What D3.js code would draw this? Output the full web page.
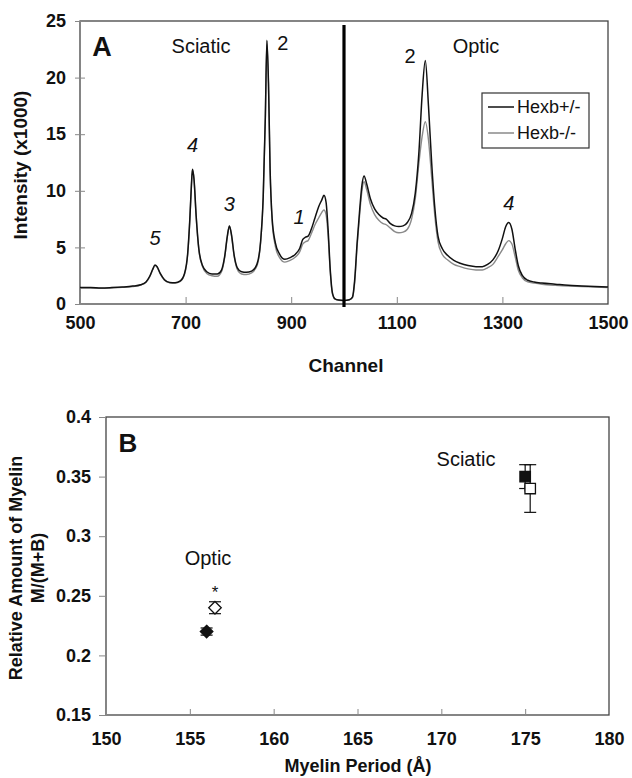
<!DOCTYPE html>
<html><head><meta charset="utf-8">
<script src="https://cdn.jsdelivr.net/npm/d3@7"></script>
<style>body{margin:0;background:#fff}text{font-family:"Liberation Sans",Arial,sans-serif;fill:#111}</style>
</head><body><svg id="c" width="632" height="778"></svg>
<script>
// ---- Panel A data ----
const channels = [500,520,540,560,580,600,615,625,632,638,642,646,652,660,670,680,690,698,704,708,711,713,716,720,725,732,740,750,760,768,774,779,783,787,792,798,806,815,825,835,842,847,851,854,857,860,864,870,878,888,898,908,916,922,927,932,938,945,952,958,962,966,970,974,978,983,990,1000,1010,1016,1020,1025,1030,1034,1038,1043,1050,1058,1066,1074,1080,1088,1096,1104,1112,1120,1128,1135,1142,1148,1154,1160,1166,1172,1178,1186,1196,1208,1220,1235,1250,1262,1272,1282,1292,1300,1306,1312,1318,1324,1330,1338,1348,1360,1375,1400,1425,1450,1475,1500];
const hexbHet = [1.45,1.45,1.42,1.45,1.5,1.58,1.7,1.95,2.45,3.1,3.45,3.3,2.7,2.15,1.9,1.88,2.05,2.7,4.5,7.5,10.5,11.9,11.0,7.8,4.9,3.4,2.85,2.65,2.65,3.0,4.2,6.0,6.9,6.1,4.3,3.2,2.85,2.8,2.9,3.5,5.5,9.5,16.5,23.3,19.5,12.0,7.5,5.4,4.4,3.95,4.1,4.4,4.9,5.7,5.9,6.0,6.6,7.6,8.6,9.2,9.6,9.0,6.5,3.0,1.0,0.45,0.35,0.32,0.38,0.6,2.0,5.5,8.5,10.5,11.3,10.6,9.3,8.4,7.9,7.6,7.5,7.1,6.9,6.85,6.9,7.2,8.0,9.8,13.5,18.5,21.5,17.5,12.5,8.5,6.0,4.9,4.3,3.85,3.6,3.4,3.3,3.3,3.5,3.9,4.7,5.8,6.8,7.2,6.6,4.9,3.4,2.5,2.1,1.95,1.85,1.75,1.65,1.6,1.55,1.5];
const hexbKo = [1.4,1.4,1.38,1.42,1.47,1.55,1.68,1.92,2.4,3.05,3.4,3.25,2.65,2.1,1.88,1.85,2.0,2.65,4.4,7.4,10.4,11.9,10.9,7.7,4.8,3.3,2.7,2.5,2.45,2.85,4.1,5.9,6.9,6.0,4.2,3.05,2.65,2.6,2.75,3.35,5.4,9.4,16.4,23.2,19.4,11.9,7.3,5.1,4.1,3.7,3.85,4.15,4.6,5.3,5.5,5.6,6.2,7.0,7.6,8.1,8.3,7.9,6.0,2.8,0.9,0.42,0.33,0.3,0.36,0.55,1.8,5.2,8.1,10.0,10.8,10.1,8.8,7.9,7.4,7.1,7.0,6.7,6.4,6.3,6.35,6.6,7.5,9.3,12.5,14.8,16.1,14.5,11.2,7.8,5.5,4.4,3.9,3.5,3.3,3.1,3.0,3.0,3.2,3.5,4.2,4.8,5.3,5.6,5.3,4.2,3.0,2.3,1.95,1.85,1.75,1.65,1.58,1.55,1.5,1.45];
const seriesNames = ["Hexb+/-","Hexb-/-"];
const channelTicks = [500,700,900,1100,1300,1500];
const intensityTicks = [0,5,10,15,20,25];
const separatorChannel = 1000;
const peakLabels = [
  {t:"5", ch:642, v:5.2, it:true}, {t:"4", ch:713, v:13.4, it:true}, {t:"3", ch:783, v:8.2, it:true},
  {t:"2", ch:884, v:22.4, it:false}, {t:"1", ch:915, v:7.1, it:true},
  {t:"2", ch:1125, v:21.3, it:false}, {t:"4", ch:1312, v:8.3, it:true}];

// ---- Panel B data ----
const groups = ["Optic","Optic","Sciatic","Sciatic"];
const period = [156, 156.5, 175, 175.3];
const myelinFrac = [0.22, 0.24, 0.35, 0.34];
const yErr = [0.003, 0.005, 0.01, 0.02];
const xErr = [0.15, 0.15, 0, 0.3];
const filled = [true, false, true, false];
const shapes = ["diamond","diamond","square","square"];
const periodTicks = [150,155,160,165,170,175,180];
const fracTicks = [0.15,0.2,0.25,0.3,0.35,0.4];

const svg = d3.select("#c");
const frameCol = "#444";

// ===== Panel A =====
const ax = d3.scaleLinear().domain([500,1500]).range([80,608]);
const ay = d3.scaleLinear().domain([0,25]).range([304,21]);
const gA = svg.append("g");
gA.append("rect").attr("x",80).attr("y",21).attr("width",528).attr("height",283)
  .attr("fill","none").attr("stroke",frameCol).attr("stroke-width",1.3);
const yAxA = gA.append("g").attr("transform","translate(80,0)")
  .call(d3.axisLeft(ay).tickValues(intensityTicks).tickFormat(d3.format("d")).tickSizeInner(5).tickSizeOuter(0).tickPadding(9));
yAxA.select(".domain").remove();
yAxA.selectAll(".tick line").attr("stroke","#888").attr("x2",5).attr("x1",-5);
yAxA.selectAll("text").style("font-size","18px").style("font-weight","bold").attr("x",-14);
const xAxA = gA.append("g").attr("transform","translate(0,304)")
  .call(d3.axisBottom(ax).tickValues(channelTicks).tickFormat(d3.format("d")).tickSizeInner(-7).tickSizeOuter(0).tickPadding(12));
xAxA.select(".domain").remove();
xAxA.selectAll(".tick line").attr("stroke","#888");
xAxA.selectAll("text").style("font-size","18px").style("font-weight","bold");

const lineA = d3.line().x((d,i)=>ax(channels[i])).y(d=>ay(d)).curve(d3.curveMonotoneX);
gA.append("path").attr("d",lineA(hexbKo)).attr("fill","none").attr("stroke","#8a8a8a").attr("stroke-width",1.4);
gA.append("path").attr("d",lineA(hexbHet)).attr("fill","none").attr("stroke","#111").attr("stroke-width",1.5);

gA.append("line").attr("x1",ax(separatorChannel)).attr("x2",ax(separatorChannel))
  .attr("y1",25).attr("y2",307).attr("stroke","#000").attr("stroke-width",3.2);

gA.selectAll("text.pk").data(peakLabels).enter().append("text").attr("class","pk")
  .attr("x",d=>ax(d.ch)).attr("y",d=>ay(d.v)).attr("text-anchor","middle")
  .style("font-size","20px").style("font-style",d=>d.it?"italic":"normal").text(d=>d.t);

gA.append("text").attr("x",102).attr("y",56).attr("text-anchor","middle")
  .style("font-size","27px").style("font-weight","bold").text("A");
gA.append("text").attr("x",201).attr("y",53).attr("text-anchor","middle").style("font-size","20px").text("Sciatic");
gA.append("text").attr("x",476).attr("y",53).attr("text-anchor","middle").style("font-size","20px").text("Optic");

// legend
const lg = gA.append("g");
lg.append("rect").attr("x",482).attr("y",93).attr("width",107).attr("height",55)
  .attr("fill","#fff").attr("stroke","#333").attr("stroke-width",1.2);
const lgCols = ["#111","#8a8a8a"];
seriesNames.forEach((n,i)=>{
  const yy = 107 + i*26;
  lg.append("line").attr("x1",488).attr("x2",514).attr("y1",yy).attr("y2",yy).attr("stroke",lgCols[i]).attr("stroke-width",1.5);
  lg.append("text").attr("x",517).attr("y",yy+6).style("font-size","18px").text(n);
});

// axis titles A
gA.append("text").attr("x",346).attr("y",372).attr("text-anchor","middle")
  .style("font-size","19px").style("font-weight","bold").text("Channel");
gA.append("text").attr("transform","translate(27,165) rotate(-90)").attr("text-anchor","middle")
  .style("font-size","19px").style("font-weight","bold").text("Intensity (x1000)");

// ===== Panel B =====
const bx = d3.scaleLinear().domain([150,180]).range([106,609]);
const by = d3.scaleLinear().domain([0.15,0.4]).range([715,417]);
const gB = svg.append("g");
gB.append("rect").attr("x",106).attr("y",417).attr("width",503).attr("height",298)
  .attr("fill","none").attr("stroke",frameCol).attr("stroke-width",1.3);
const yAxB = gB.append("g").attr("transform","translate(106,0)")
  .call(d3.axisLeft(by).tickValues(fracTicks).tickFormat(d3.format("~g")).tickSizeInner(7).tickSizeOuter(0).tickPadding(8));
yAxB.select(".domain").remove();
yAxB.selectAll(".tick line").attr("stroke","#888");
yAxB.selectAll("text").style("font-size","18px").style("font-weight","bold");
const xAxB = gB.append("g").attr("transform","translate(0,715)")
  .call(d3.axisBottom(bx).tickValues(periodTicks).tickFormat(d3.format("d")).tickSizeInner(-6).tickSizeOuter(0).tickPadding(17));
xAxB.select(".domain").remove();
xAxB.selectAll(".tick line").attr("stroke","#888");
xAxB.selectAll("text").style("font-size","18px").style("font-weight","bold");

// error bars & markers
period.forEach((p,i)=>{
  const cx = bx(p), cy = by(myelinFrac[i]);
  const t = by(myelinFrac[i]+yErr[i]), b = by(myelinFrac[i]-yErr[i]);
  const cap = 6;
  gB.append("line").attr("x1",cx).attr("x2",cx).attr("y1",t).attr("y2",b).attr("stroke","#111").attr("stroke-width",1.2);
  gB.append("line").attr("x1",cx-cap).attr("x2",cx+cap).attr("y1",t).attr("y2",t).attr("stroke","#111").attr("stroke-width",1.2);
  gB.append("line").attr("x1",cx-cap).attr("x2",cx+cap).attr("y1",b).attr("y2",b).attr("stroke","#111").attr("stroke-width",1.2);
  if (xErr[i] > 0) {
    const l = bx(p - xErr[i]), r = bx(p + xErr[i]);
    gB.append("line").attr("x1",l).attr("x2",r).attr("y1",cy).attr("y2",cy).attr("stroke","#111").attr("stroke-width",1.2);
    gB.append("line").attr("x1",l).attr("x2",l).attr("y1",cy-3).attr("y2",cy+3).attr("stroke","#111").attr("stroke-width",1.2);
    gB.append("line").attr("x1",r).attr("x2",r).attr("y1",cy-3).attr("y2",cy+3).attr("stroke","#111").attr("stroke-width",1.2);
  }
});
period.forEach((p,i)=>{
  const cx = bx(p), cy = by(myelinFrac[i]);
  const sym = d3.symbol().type(shapes[i]==="square"?d3.symbolSquare:d3.symbolDiamond2).size(shapes[i]==="square"?110:100);
  gB.append("path").attr("d",sym()).attr("transform",`translate(${cx},${cy})`)
    .attr("fill",filled[i]?"#111":"#fff").attr("stroke","#111").attr("stroke-width",1.3);
});
gB.append("text").attr("x",bx(156.5)).attr("y",by(0.2485)).attr("text-anchor","middle").style("font-size","17px").text("*");

gB.append("text").attr("x",128).attr("y",452).attr("text-anchor","middle")
  .style("font-size","26px").style("font-weight","bold").text("B");
gB.append("text").attr("x",466).attr("y",466).attr("text-anchor","middle").style("font-size","20px").text("Sciatic");
gB.append("text").attr("x",208).attr("y",565).attr("text-anchor","middle").style("font-size","20px").text("Optic");

gB.append("text").attr("x",358).attr("y",772).attr("text-anchor","middle")
  .style("font-size","18px").style("font-weight","bold").text("Myelin Period (Å)");
gB.append("text").attr("transform","translate(22,568) rotate(-90)").attr("text-anchor","middle")
  .style("font-size","18px").style("font-weight","bold").text("Relative Amount of Myelin");
gB.append("text").attr("transform","translate(44,568) rotate(-90)").attr("text-anchor","middle")
  .style("font-size","18px").style("font-weight","bold").text("M/(M+B)");
</script></body></html>
